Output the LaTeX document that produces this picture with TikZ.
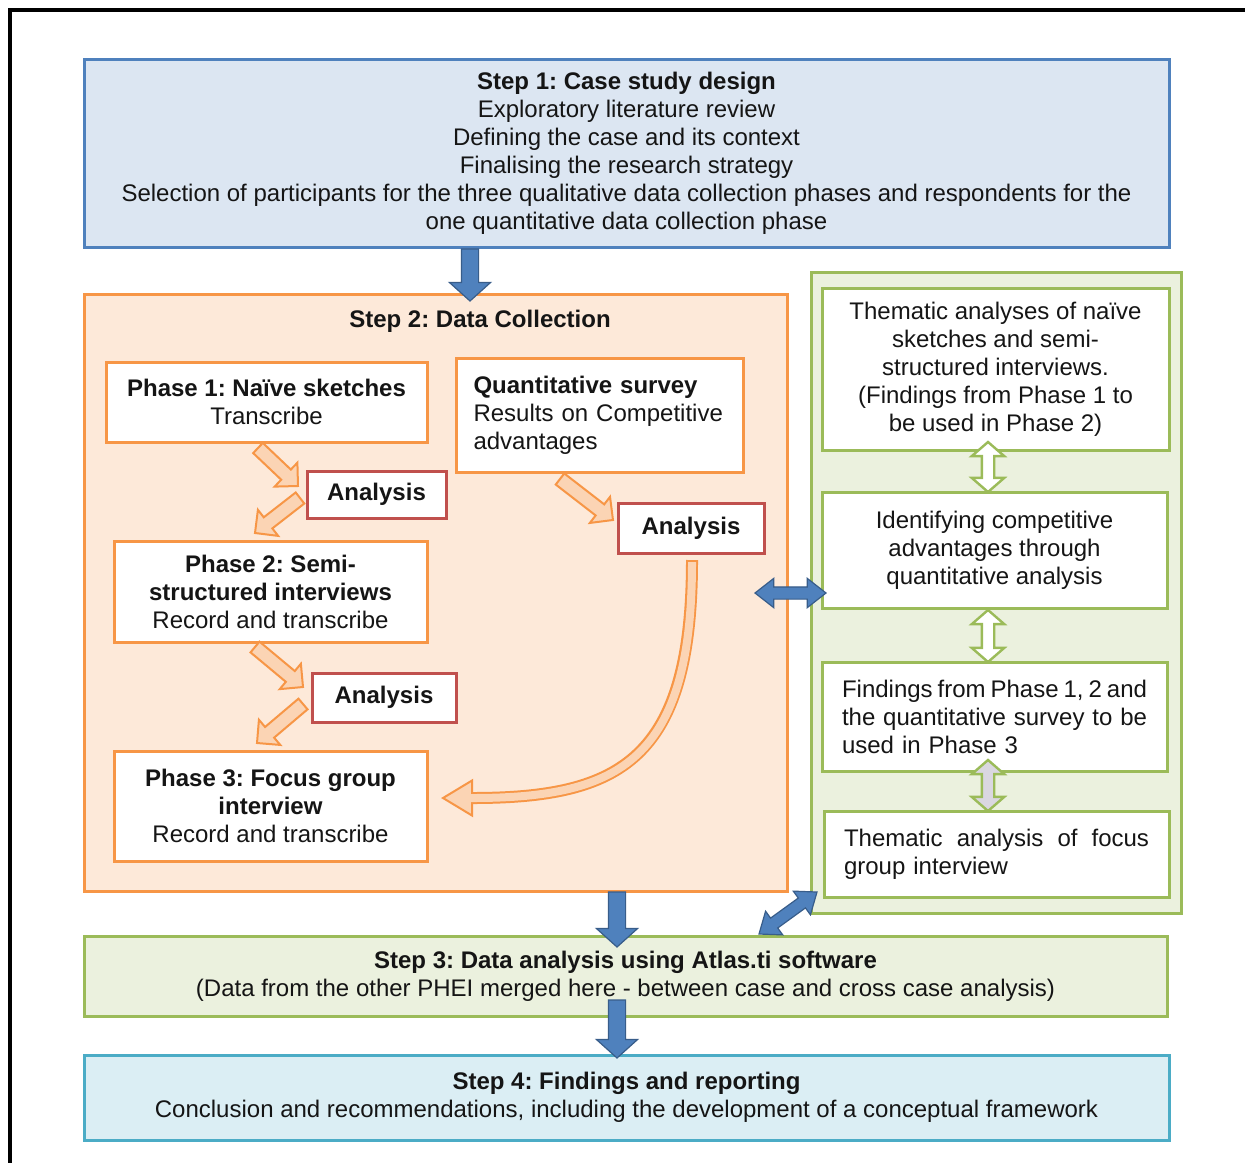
\documentclass[tikz,border=0pt]{standalone}
\usepackage{fontspec}
\setmainfont{Liberation Sans}
\usetikzlibrary{shapes.arrows,calc}
\frenchspacing

\definecolor{bluefill}{HTML}{DCE6F2}
\definecolor{blueline}{HTML}{4F81BD}
\definecolor{orfill}{HTML}{FDE9D9}
\definecolor{orline}{HTML}{F79646}
\definecolor{orarrow}{HTML}{FBD4B4}
\definecolor{redline}{HTML}{C0504D}
\definecolor{grfill}{HTML}{EBF1DE}
\definecolor{grline}{HTML}{9BBB59}
\definecolor{cyfill}{HTML}{DBEEF4}
\definecolor{cyline}{HTML}{4BACC6}
\definecolor{arrowblue}{HTML}{4F81BD}
\definecolor{arrowblueline}{HTML}{385D8A}
\definecolor{greyarrow}{HTML}{DAD7E0}
\definecolor{txt}{HTML}{151515}

% a line stretched or squeezed to the full column width
\newcommand\jline[1]{\leavevmode\hbox to 152.5pt{\spaceskip=1.5pt plus 1fil\relax #1}}

\tikzset{
  base/.style={font=\fontsize{12}{14}\selectfont, text=txt, inner sep=0pt, outer sep=0pt},
  box/.style={base, rectangle, line width=1.5pt, align=center},
  stepone/.style={box, draw=blueline, fill=bluefill},
  stepfour/.style={box, draw=cyline, fill=cyfill},
  orbox/.style={box, draw=orline, fill=orfill},
  phasebox/.style={box, draw=orline, fill=white},
  anbox/.style={box, draw=redline, fill=white},
  grbox/.style={box, draw=grline, fill=grfill},
  gritem/.style={box, draw=grline, fill=white},
  bluearr/.style={single arrow, draw=arrowblueline, fill=arrowblue, line width=0.6pt,
    inner xsep=0pt, inner ysep=4pt, outer sep=0pt, minimum width=0pt,
    single arrow head extend=6pt, single arrow tip angle=96},
  bluedbl/.style={double arrow, draw=arrowblueline, fill=arrowblue, line width=0.6pt,
    inner xsep=0pt, inner ysep=2.75pt, outer sep=0pt, minimum width=0pt,
    double arrow head extend=4.25pt, double arrow tip angle=76},
  orarr/.style={single arrow, draw=orline, fill=orarrow, line width=1pt,
    inner xsep=0pt, inner ysep=3pt, outer sep=0pt, minimum width=0pt,
    single arrow head extend=4.75pt, single arrow tip angle=90},
  grdbl/.style={double arrow, draw=grline, fill=white, line width=1.2pt,
    inner xsep=0pt, inner ysep=2.5pt, outer sep=0pt, minimum width=0pt,
    double arrow head extend=5pt, double arrow tip angle=98},
}

% block arrow from the first named point to the second
\newcommand\singlearr[3]{%
  \path let \p1=(#2), \p2=(#3), \n1={atan2(\y2-\y1,\x2-\x1)},
    \n2={veclen(\x2-\x1,\y2-\y1)} in
    node[#1, anchor=tail, rotate=\n1, minimum height=\n2] at (\p1) {};}
% two-headed block arrow between two named points
\newcommand\doublearr[3]{%
  \path let \p1=(#2), \p2=(#3), \n1={atan2(\y2-\y1,\x2-\x1)},
    \n2={veclen(\x2-\x1,\y2-\y1)} in
    node[#1, rotate=\n1, minimum height=\n2] at ($(\p1)!0.5!(\p2)$) {};}

\begin{document}
\begin{tikzpicture}[x=0.5pt, y=-0.5pt]
\useasboundingbox (0,0) rectangle (1245,1162);
\fill[white] (0,0) rectangle (1245,1162);

% outer frame
\draw[line width=2pt, line join=miter] (10,1175) -- (10,10) -- (1260,10);

% Step 1
\node[stepone, minimum width=542.5pt, minimum height=94pt] (s1) at (626.5,153)
  {\textbf{Step 1: Case study design}\\Exploratory literature review\\Defining the case and its context\\Finalising the research strategy\\Selection of participants for the three qualitative data collection phases and respondents for the\\one quantitative data collection phase};

% Step 2 frame and its contents
\node[orbox, minimum width=351.5pt, minimum height=298.5pt] (s2) at (435.5,592.5) {};
\node[base] (s2t) at (480,321) {\textbf{Step 2: Data Collection}};

\node[phasebox, minimum width=160.5pt, minimum height=40pt] (ph1) at (266.5,402)
  {\textbf{Phase 1: Naïve sketches}\\Transcribe};
\node[phasebox, minimum width=143.5pt, minimum height=57pt, text width=126pt, align=left] (qs) at (599.5,415)
  {\textbf{Quantitative survey}\\Results on Competitive\\advantages};
\node[anbox, minimum width=69.5pt, minimum height=23.5pt] (an1) at (376.5,494.5) {\textbf{Analysis}};
\node[anbox, minimum width=72pt, minimum height=24.5pt] (an2) at (384,697.5) {\textbf{Analysis}};
\node[anbox, minimum width=73pt, minimum height=25pt] (an3) at (691,528) {\textbf{Analysis}};
\node[phasebox, minimum width=156.5pt, minimum height=50.5pt] (ph2) at (270.5,591.5)
  {\textbf{Phase 2: Semi-}\\\textbf{structured interviews}\\Record and transcribe};
\node[phasebox, minimum width=156.5pt, minimum height=55pt] (ph3) at (270.5,806)
  {\textbf{Phase 3: Focus group}\\\textbf{interview}\\Record and transcribe};

% analysis column
\node[grbox, minimum width=185pt, minimum height=320.5pt] (gc) at (996,592.5) {};
\node[gritem, minimum width=173.5pt, minimum height=81pt] (g1) at (995.5,369)
  {Thematic analyses of naïve\\sketches and semi-\\structured interviews.\\(Findings from Phase 1 to\\be used in Phase 2)};
\node[gritem, minimum width=172.5pt, minimum height=58pt] (g2) at (994.5,550)
  {Identifying competitive\\advantages through\\quantitative analysis};
\node[gritem, minimum width=172.5pt, minimum height=54.5pt, text width=152.5pt, align=left] (g3) at (994.5,716.5)
  {\jline{Findings from Phase 1, 2 and}\\\jline{the quantitative survey to be}\\used in Phase 3};
\node[gritem, minimum width=172.5pt, minimum height=43pt, text width=152.5pt, align=left] (g4) at (996.5,854)
  {\jline{Thematic analysis of focus}\\group interview};

% Steps 3 and 4
\node[grbox, minimum width=541.5pt, minimum height=40pt] (s3) at (625.5,976)
  {\textbf{Step 3: Data analysis using Atlas.ti software}\\(Data from the other PHEI merged here - between case and cross case analysis)};
\node[stepfour, minimum width=542.5pt, minimum height=42.5pt] (s4) at (626.5,1097.5)
  {\textbf{Step 4: Findings and reporting}\\Conclusion and recommendations, including the development of a conceptual framework};

% end points of the block arrows
\coordinate (b1s) at ($(s1.south)+(-156.5,2)$);
\coordinate (b1e) at ($(s2.north)+(34.5,7)$);
\coordinate (b2s) at ($(s2.south)+(181.5,1)$);
\coordinate (b2e) at ($(s3.north)+(-8.5,11)$);
\coordinate (b3s) at ($(s3.south)+(-8.5,-16)$);
\coordinate (b3e) at ($(s4.north)+(-9.5,3)$);
\coordinate (bhs) at ($(s2.east)+(-32,0.5)$);
\coordinate (bhe) at ($(g2.west |- s2.east)+(4,0.5)$);
\coordinate (bds) at ($(s3.north)+(133.5,-2)$);
\coordinate (bde) at ($(gc.south west)+(6,-21)$);

\coordinate (o1s) at ($(ph1.south)+(-8.5,6)$);
\coordinate (o1e) at ($(an1.west)+(-9,-8.5)$);
\coordinate (o2s) at ($(an1.west)+(-7,3.5)$);
\coordinate (o2e) at ($(ph2.north)+(-15.5,-8)$);
\coordinate (o3s) at ($(ph2.south)+(-15.5,5)$);
\coordinate (o3e) at ($(an2.west)+(-9,-10.5)$);
\coordinate (o4s) at ($(an2.west)+(-9,6.5)$);
\coordinate (o4e) at ($(ph3.north)+(-13.5,-8)$);
\coordinate (o5s) at ($(qs.south)+(-39.5,7)$);
\coordinate (o5e) at ($(an3.west)+(-5,-8)$);

\coordinate (g12s) at ($(g1.south)+(-7.5,-8)$);
\coordinate (g12e) at ($(g2.north)+(-6.5,0)$);
\coordinate (g23s) at ($(g2.south)+(-6.5,2)$);
\coordinate (g23e) at ($(g3.north)+(-6.5,0)$);
\coordinate (g34s) at ($(g3.south)+(-6.5,-11)$);
\coordinate (g34e) at ($(g4.north)+(-8.5,0)$);

% blue arrows between the steps
\singlearr{bluearr}{b1s}{b1e}
\singlearr{bluearr}{b2s}{b2e}
\singlearr{bluearr}{b3s}{b3e}
\doublearr{bluedbl}{bhs}{bhe}
\doublearr{bluedbl}{bds}{bde}

% orange arrows inside Step 2
\singlearr{orarr}{o1s}{o1e}
\singlearr{orarr}{o2s}{o2e}
\singlearr{orarr}{o3s}{o3e}
\singlearr{orarr}{o4s}{o4e}
\singlearr{orarr}{o5s}{o5e}

% curved arrow from the survey analysis to Phase 3
\coordinate (cA) at ($(an3.south)+(1,7)$);
\coordinate (cT) at ($(ph3.east)+(16,-8)$);
\coordinate (cB) at ($(cT)+(29,0)$);
\draw[line width=6pt, orline] (cA) .. controls ($(cA)+(0,200)$) and ($(cB)+(148,0)$) .. (cB);
\draw[fill=orarrow, draw=orline, line width=1pt, line join=miter]
  (cT) -- ($(cB)+(0,-17.5)$) -- ($(cB)+(0,17.5)$) -- cycle;
\draw[line width=4pt, orarrow, shorten <=1pt] (cA) .. controls ($(cA)+(0,200)$) and ($(cB)+(148,0)$) .. (cB) -- ($(cB)+(-6,0)$);

% green arrows in the analysis column
\doublearr{grdbl}{g12s}{g12e}
\doublearr{grdbl}{g23s}{g23e}
\doublearr{grdbl, fill=greyarrow}{g34s}{g34e}
\end{tikzpicture}
\end{document}
